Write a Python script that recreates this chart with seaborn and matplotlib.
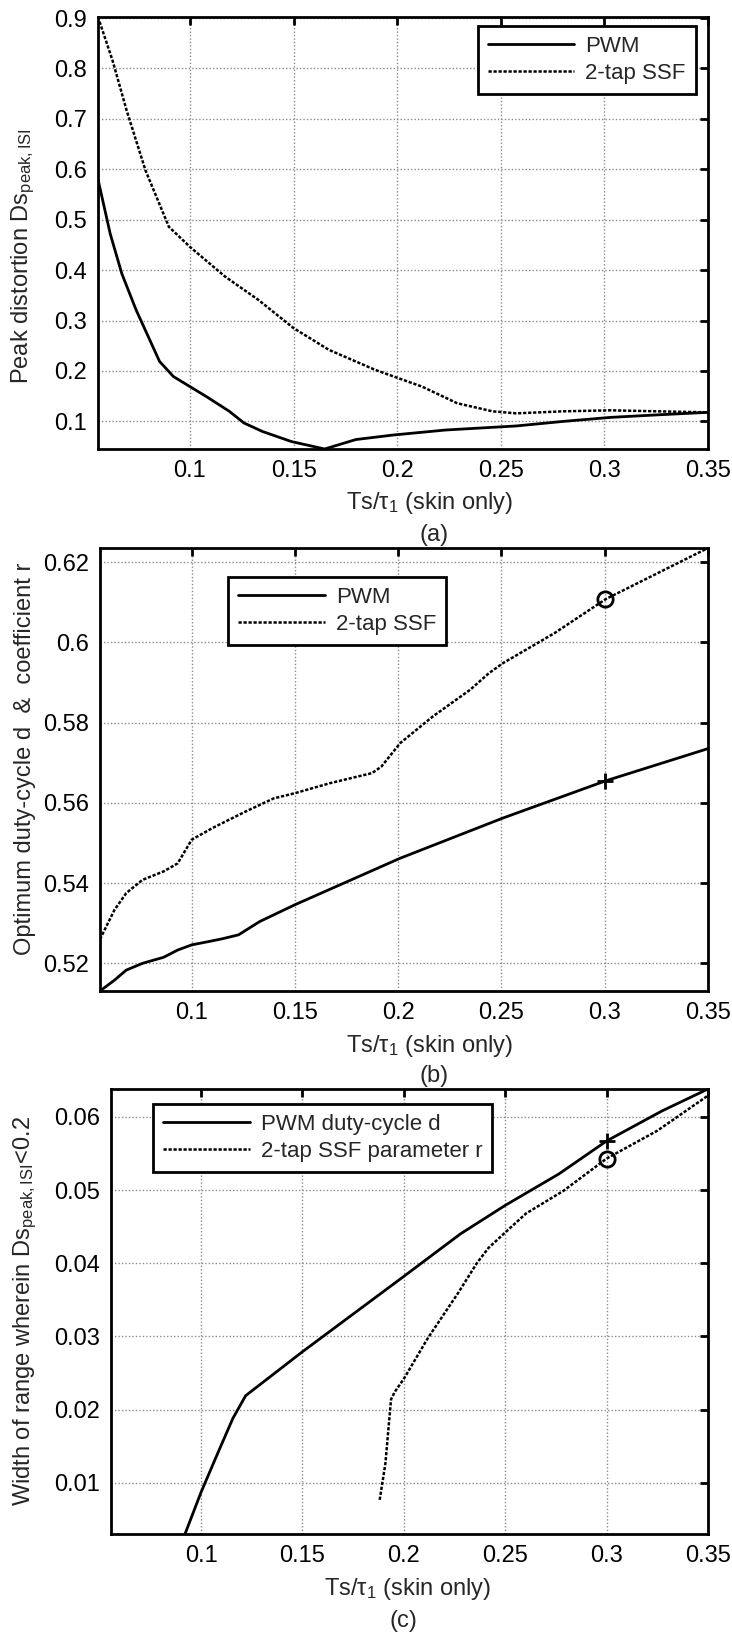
import numpy as np
import matplotlib
matplotlib.use("Agg")
import matplotlib.pyplot as plt
import seaborn as sns
from matplotlib.ticker import FuncFormatter

# --- data ---
# (a) peak distortion
a_pwm_x = [0.0556, 0.0615, 0.0671, 0.074, 0.0853, 0.092, 0.1, 0.108, 0.119, 0.126, 0.135, 0.149,
           0.165, 0.180, 0.198, 0.2235, 0.2575, 0.280, 0.303, 0.3256, 0.35]
a_pwm_y = [0.58, 0.472, 0.393, 0.321, 0.219, 0.189, 0.169, 0.149, 0.120, 0.097, 0.080, 0.060,
           0.0453, 0.064, 0.073, 0.083, 0.091, 0.100, 0.108, 0.113, 0.118]
a_ssf_x = [0.0556, 0.0626, 0.0694, 0.0785, 0.0898, 0.1, 0.117, 0.133, 0.150, 0.167, 0.1895, 0.212,
           0.229, 0.246, 0.2575, 0.280, 0.303, 0.326, 0.35]
a_ssf_y = [0.902, 0.816, 0.717, 0.598, 0.486, 0.446, 0.387, 0.341, 0.285, 0.242, 0.202, 0.169,
           0.136, 0.120, 0.116, 0.120, 0.122, 0.120, 0.118]

# (b) optimum duty-cycle / coefficient
b_pwm_x = [0.0556, 0.0626, 0.0683, 0.0762, 0.0864, 0.0932, 0.1, 0.108, 0.1147, 0.1227, 0.1329,
           0.150, 0.201, 0.2507, 0.3006, 0.35]
b_pwm_y = [0.5131, 0.5158, 0.5183, 0.520, 0.5215, 0.5233, 0.5246, 0.5254, 0.5261, 0.5271, 0.5304,
           0.5346, 0.5462, 0.5562, 0.5655, 0.5735]
b_ssf_x = [0.0556, 0.0626, 0.0683, 0.0762, 0.0864, 0.0932, 0.1, 0.110, 0.126, 0.1397, 0.150, 0.167,
           0.1873, 0.1918, 0.201, 0.2167, 0.2349, 0.2439, 0.2507, 0.2757, 0.3006, 0.35]
b_ssf_y = [0.526, 0.5333, 0.5375, 0.5408, 0.5429, 0.5449, 0.5508, 0.5537, 0.5578, 0.5611, 0.5624,
           0.5649, 0.5674, 0.569, 0.5749, 0.5815, 0.5882, 0.5923, 0.5948, 0.6023, 0.6108, 0.6235]

# (c) width of range
c_pwm_x = [0.0921, 0.1, 0.1088, 0.1157, 0.122, 0.15, 0.2, 0.2279, 0.25, 0.2765, 0.30, 0.3273, 0.35]
c_pwm_y = [0.0030, 0.0087, 0.0144, 0.0188, 0.0219, 0.0279, 0.0382, 0.0440, 0.0479, 0.0522,
           0.0567, 0.0608, 0.0638]
c_ssf_x = [0.1881, 0.1909, 0.1937, 0.1955, 0.2, 0.2117, 0.2267, 0.236, 0.2418, 0.25, 0.2603,
           0.2788, 0.30, 0.325, 0.35]
c_ssf_y = [0.00767, 0.0126, 0.0214, 0.0224, 0.0242, 0.0297, 0.0359, 0.040, 0.0421, 0.0442, 0.0468,
           0.0499, 0.0543, 0.0581, 0.0629]

mark_x = 0.3
b_mark_pwm, b_mark_ssf = 0.5655, 0.6108
c_mark_pwm, c_mark_ssf = 0.0567, 0.0543

x_ticks = [0.1, 0.15, 0.2, 0.25, 0.3, 0.35]
a_yticks = [0.1, 0.2, 0.3, 0.4, 0.5, 0.6, 0.7, 0.8, 0.9]
b_yticks = [0.52, 0.54, 0.56, 0.58, 0.6, 0.62]
c_yticks = [0.01, 0.02, 0.03, 0.04, 0.05, 0.06]

sns.set_style("white")
plt.rcParams['font.family'] = ['Liberation Sans', 'DejaVu Sans']
plt.rcParams['mathtext.fontset'] = 'custom'
plt.rcParams['mathtext.rm'] = 'Liberation Sans'
plt.rcParams['mathtext.it'] = 'Liberation Sans:italic'
plt.rcParams['mathtext.bf'] = 'Liberation Sans:bold'

W, H = 732, 1632
fig = plt.figure(figsize=(W / 100, H / 100), dpi=100)

def box(l, t, r, b):
    return [l / W, 1 - b / H, (r - l) / W, (b - t) / H]

fmt = FuncFormatter(lambda v, p: '%g' % round(v, 4))
FS = 17
DOT = (0, (1.3, 0.7))

def style(ax, ylim, yticks):
    ax.set_xlim(0.0556, 0.35)
    ax.set_ylim(*ylim)
    ax.set_xticks(x_ticks)
    ax.set_yticks(yticks)
    ax.xaxis.set_major_formatter(fmt)
    ax.yaxis.set_major_formatter(fmt)
    ax.grid(True, color='0.55', linestyle=(0, (1, 1.5)), linewidth=1)
    ax.tick_params(direction='in', length=6, width=2, top=True, right=True,
                   labelsize=FS, colors='k', pad=8)
    for s in ax.spines.values():
        s.set_linewidth(2)
        s.set_color('k')
        s.set_visible(True)
    ax.set_xlabel('')
    ax.set_ylabel('')

def legend(ax, loc, anchor, labels):
    leg = ax.legend(labels=labels, loc=loc, bbox_to_anchor=anchor, borderaxespad=0,
                    fontsize=16, handlelength=3.9, fancybox=False, framealpha=1,
                    edgecolor='k', labelspacing=0.25, borderpad=0.45, handletextpad=0.5)
    leg.get_frame().set_linewidth(2)

xl = r'Ts/$\mathregular{\tau_1}$ (skin only)'

# (a)
ax1 = fig.add_axes(box(98, 17, 708, 449))
sns.lineplot(x=a_pwm_x, y=a_pwm_y, ax=ax1, color='k', linewidth=2, sort=False, estimator=None)
sns.lineplot(x=a_ssf_x, y=a_ssf_y, ax=ax1, color='k', linewidth=1.8, linestyle=DOT, sort=False, estimator=None)
style(ax1, (0.0453, 0.902), a_yticks)
legend(ax1, 'upper right', (0.980, 0.979), ['PWM', '2-tap SSF'])
fig.text(430 / W, 1 - 503 / H, xl, ha='center', va='center', fontsize=FS)
fig.text(434 / W, 1 - 535 / H, '(a)', ha='center', va='center', fontsize=FS)
fig.text(23 / W, 1 - 256 / H, r'Peak distortion Ds$_{\mathregular{peak,ISI}}$',
         rotation=90, ha='center', va='center', fontsize=FS)

# (b)
ax2 = fig.add_axes(box(100, 548, 708, 991))
sns.lineplot(x=b_pwm_x, y=b_pwm_y, ax=ax2, color='k', linewidth=2, sort=False, estimator=None)
sns.lineplot(x=b_ssf_x, y=b_ssf_y, ax=ax2, color='k', linewidth=1.8, linestyle=DOT, sort=False, estimator=None)
ax2.plot([mark_x], [b_mark_pwm], marker='+', color='k', markersize=12, mew=2, ls='none')
ax2.plot([mark_x], [b_mark_ssf], marker='o', color='k', mfc='none', markersize=11, mew=2, ls='none')
style(ax2, (0.5131, 0.6235), b_yticks)
legend(ax2, 'upper left', (0.2105, 0.9345), ['PWM', '2-tap SSF'])
fig.text(430 / W, 1 - 1046 / H, xl, ha='center', va='center', fontsize=FS)
fig.text(434 / W, 1 - 1076 / H, '(b)', ha='center', va='center', fontsize=FS)
fig.text(25 / W, 1 - 759 / H, 'Optimum duty-cycle d  &  coefficient r',
         rotation=90, ha='center', va='center', fontsize=FS)

# (c)
ax3 = fig.add_axes(box(111, 1089, 708, 1534))
sns.lineplot(x=c_pwm_x, y=c_pwm_y, ax=ax3, color='k', linewidth=2, sort=False, estimator=None)
sns.lineplot(x=c_ssf_x, y=c_ssf_y, ax=ax3, color='k', linewidth=1.8, linestyle=DOT, sort=False, estimator=None)
ax3.plot([mark_x], [c_mark_pwm], marker='+', color='k', markersize=12, mew=2, ls='none')
ax3.plot([mark_x], [c_mark_ssf], marker='o', color='k', mfc='none', markersize=11, mew=2, ls='none')
style(ax3, (0.0030, 0.0638), c_yticks)
legend(ax3, 'upper left', (0.0704, 0.966), ['PWM duty-cycle d', '2-tap SSF parameter r'])
fig.text(408 / W, 1 - 1589 / H, xl, ha='center', va='center', fontsize=FS)
fig.text(403 / W, 1 - 1621 / H, '(c)', ha='center', va='center', fontsize=FS)
fig.text(25 / W, 1 - 1311 / H, r'Width of range wherein Ds$_{\mathregular{peak,ISI}}$<0.2',
         rotation=90, ha='center', va='center', fontsize=FS)

fig.savefig('out.png', dpi=100)
